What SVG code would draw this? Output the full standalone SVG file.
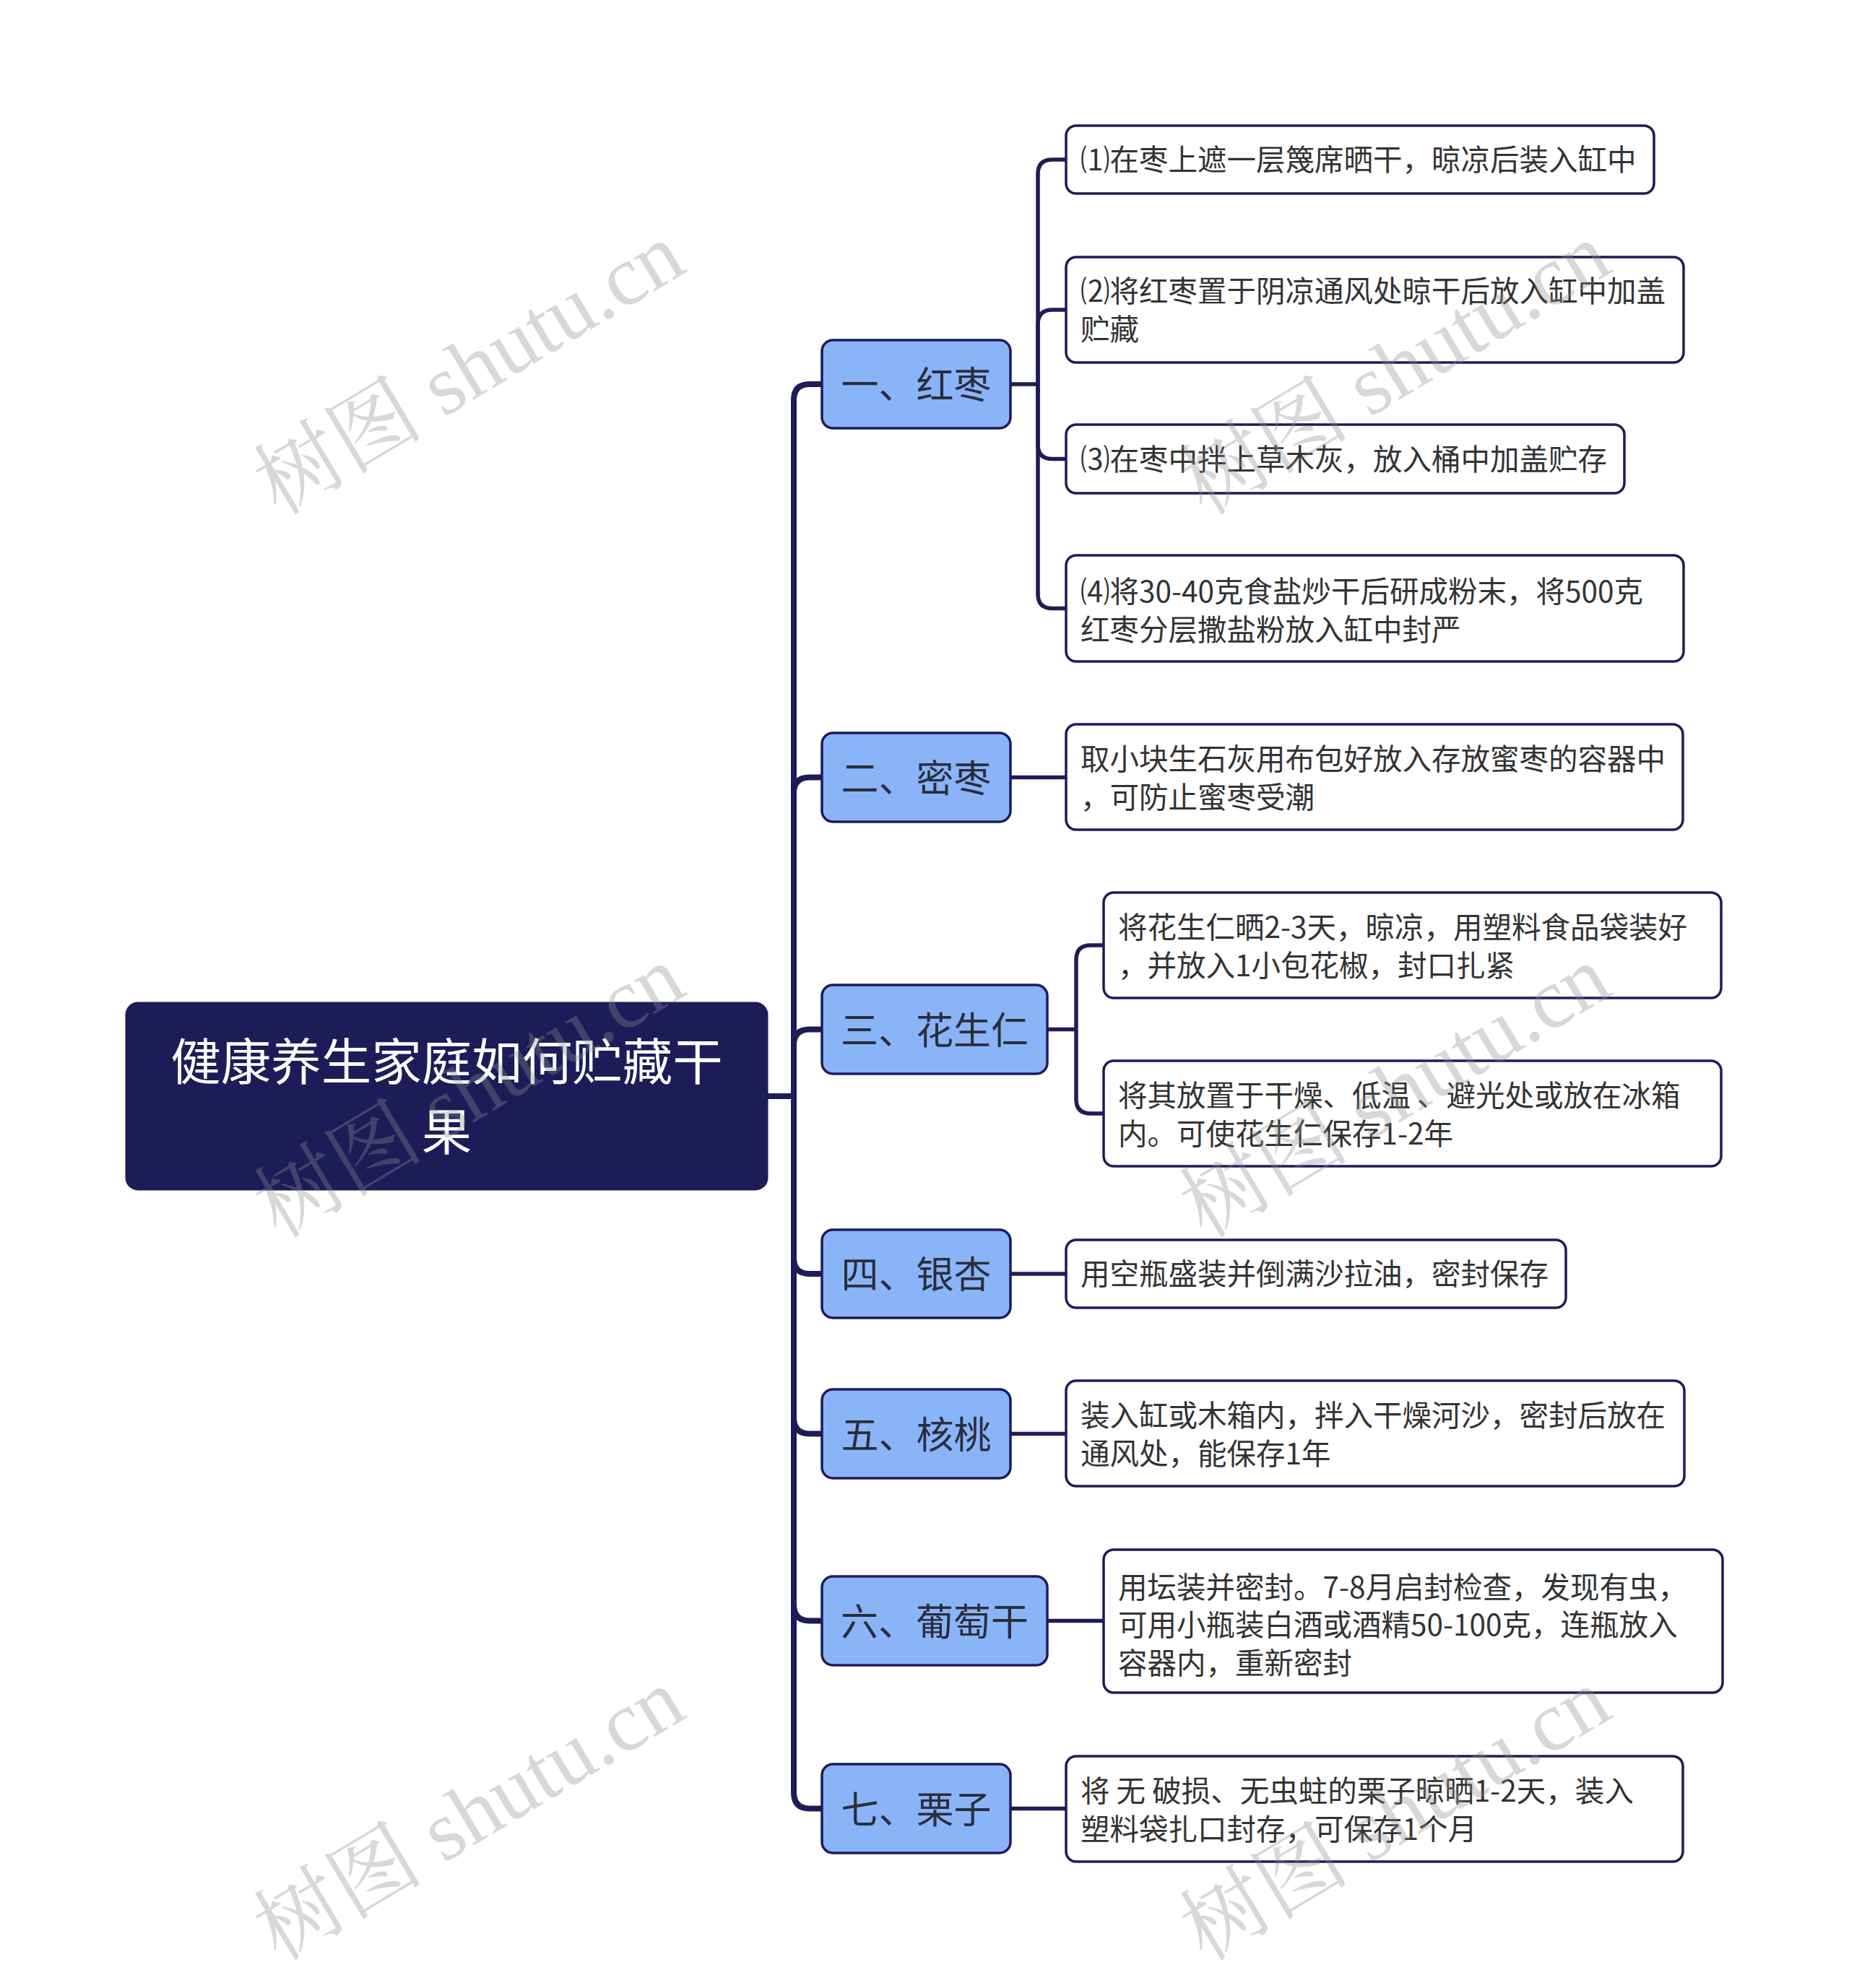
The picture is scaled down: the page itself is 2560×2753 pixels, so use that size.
<svg xmlns="http://www.w3.org/2000/svg" width="2560" height="2753" viewBox="0 0 2560 2753">
<style>
.bg{fill:#ffffff}
.root{fill:#1e1c58;stroke:#1e1c58;stroke-width:3}
.l1{fill:#8ab4f8;stroke:#1e1c58;stroke-width:3.5}
.leaf{fill:#ffffff;stroke:#1e1c58;stroke-width:3.5}
.c1{fill:none;stroke:#1e1c58;stroke-width:8;stroke-linejoin:round}
.c2{fill:none;stroke:#1e1c58;stroke-width:5.5;stroke-linejoin:round}
.tr{font-family:"Noto Sans CJK SC","Noto Sans",sans-serif;font-size:69.5px;fill:#ffffff;text-anchor:middle}
.t1{font-family:"Noto Sans CJK SC","Noto Sans",sans-serif;font-size:52px;fill:#2b2d3c;text-anchor:middle}
.t2{font-family:"Noto Sans CJK SC","Noto Sans",sans-serif;font-size:40.5px;fill:#333333}
.wm{font-family:"Liberation Serif","Noto Serif CJK SC","Noto Sans CJK SC",serif;font-size:118px;fill:#8c8c8c;fill-opacity:0.34;text-anchor:middle}
</style>
<rect class="bg" x="0" y="0" width="2560" height="2753"/>
<g id="connectors">
<path class="c1" d="M1062 1518 H1099"/>
<path class="c1" d="M1099 1518 V554 Q1099 532 1121 532 H1138"/>
<path class="c1" d="M1099 1518 V1098 Q1099 1076.5 1121 1076.5 H1138"/>
<path class="c1" d="M1099 1518 V1447 Q1099 1425.5 1121 1425.5 H1138"/>
<path class="c1" d="M1099 1518 V1742 Q1099 1764 1121 1764 H1138"/>
<path class="c1" d="M1099 1518 V1963 Q1099 1985.5 1121 1985.5 H1138"/>
<path class="c1" d="M1099 1518 V2222 Q1099 2244.5 1121 2244.5 H1138"/>
<path class="c1" d="M1099 1518 V2482 Q1099 2504.5 1121 2504.5 H1138"/>
<path class="c2" d="M1399 532 H1437"/>
<path class="c2" d="M1437 532 V241 Q1437 221 1457 221 H1476"/>
<path class="c2" d="M1437 532 V449 Q1437 429 1457 429 H1476"/>
<path class="c2" d="M1437 532 V615.5 Q1437 635.5 1457 635.5 H1476"/>
<path class="c2" d="M1437 532 V822.5 Q1437 842.5 1457 842.5 H1476"/>
<path class="c2" d="M1399 1076.5 H1476"/>
<path class="c2" d="M1450 1425.5 H1490"/>
<path class="c2" d="M1490 1425.5 V1329 Q1490 1309 1510 1309 H1528"/>
<path class="c2" d="M1490 1425.5 V1522 Q1490 1542 1510 1542 H1528"/>
<path class="c2" d="M1399 1764 H1476"/>
<path class="c2" d="M1399 1985.5 H1476"/>
<path class="c2" d="M1450 2244.5 H1528"/>
<path class="c2" d="M1399 2504.5 H1476"/>
</g>
<g id="root">
<rect class="root" x="175" y="1389" width="887" height="258" rx="16"/>
<text class="tr" x="618.5" y="1496">健康养生家庭如何贮藏干</text>
<text class="tr" x="618.5" y="1593">果</text>
</g>
<g id="n1">
<rect class="l1" x="1138" y="471" width="261" height="122" rx="15"/>
<text class="t1" x="1268.5" y="552">一、红枣</text>
</g>
<g id="n1a">
<rect class="leaf" x="1476" y="174" width="814" height="94" rx="14"/>
<text class="t2" x="1496" y="236">⑴在枣上遮一层篾席晒干，晾凉后装入缸中</text>
</g>
<g id="n1b">
<rect class="leaf" x="1476" y="356" width="855" height="146" rx="14"/>
<text class="t2" x="1496" y="418">⑵将红枣置于阴凉通风处晾干后放入缸中加盖</text>
<text class="t2" x="1496" y="471">贮藏</text>
</g>
<g id="n1c">
<rect class="leaf" x="1476" y="588" width="773" height="95" rx="14"/>
<text class="t2" x="1496" y="651">⑶在枣中拌上草木灰，放入桶中加盖贮存</text>
</g>
<g id="n1d">
<rect class="leaf" x="1476" y="769" width="855" height="147" rx="14"/>
<text class="t2" x="1496" y="834">⑷将30-40克食盐炒干后研成粉末，将500克</text>
<text class="t2" x="1496" y="887">红枣分层撒盐粉放入缸中封严</text>
</g>
<g id="n2">
<rect class="l1" x="1138" y="1015" width="261" height="123" rx="15"/>
<text class="t1" x="1268.5" y="1096.5">二、密枣</text>
</g>
<g id="n2a">
<rect class="leaf" x="1476" y="1003" width="854" height="146" rx="14"/>
<text class="t2" x="1496" y="1066">取小块生石灰用布包好放入存放蜜枣的容器中</text>
<text class="t2" x="1496" y="1119">，可防止蜜枣受潮</text>
</g>
<g id="n3">
<rect class="l1" x="1138" y="1364" width="312" height="123" rx="15"/>
<text class="t1" x="1294" y="1445.5">三、花生仁</text>
</g>
<g id="n3a">
<rect class="leaf" x="1528" y="1236" width="855" height="146" rx="14"/>
<text class="t2" x="1548" y="1299">将花生仁晒2-3天，晾凉，用塑料食品袋装好</text>
<text class="t2" x="1548" y="1352">，并放入1小包花椒，封口扎紧</text>
</g>
<g id="n3b">
<rect class="leaf" x="1528" y="1469" width="855" height="146" rx="14"/>
<text class="t2" x="1548" y="1532">将其放置于干燥、低温 、避光处或放在冰箱</text>
<text class="t2" x="1548" y="1585">内。可使花生仁保存1-2年</text>
</g>
<g id="n4">
<rect class="l1" x="1138" y="1703" width="261" height="122" rx="15"/>
<text class="t1" x="1268.5" y="1784">四、银杏</text>
</g>
<g id="n4a">
<rect class="leaf" x="1476" y="1717" width="692" height="94" rx="14"/>
<text class="t2" x="1496" y="1779">用空瓶盛装并倒满沙拉油，密封保存</text>
</g>
<g id="n5">
<rect class="l1" x="1138" y="1924" width="261" height="123" rx="15"/>
<text class="t1" x="1268.5" y="2005.5">五、核桃</text>
</g>
<g id="n5a">
<rect class="leaf" x="1476" y="1912" width="856" height="146" rx="14"/>
<text class="t2" x="1496" y="1975">装入缸或木箱内，拌入干燥河沙，密封后放在</text>
<text class="t2" x="1496" y="2028">通风处，能保存1年</text>
</g>
<g id="n6">
<rect class="l1" x="1138" y="2183" width="312" height="123" rx="15"/>
<text class="t1" x="1294" y="2264.5">六、葡萄干</text>
</g>
<g id="n6a">
<rect class="leaf" x="1528" y="2146" width="857" height="198" rx="14"/>
<text class="t2" x="1548" y="2213">用坛装并密封。7-8月启封检查，发现有虫，</text>
<text class="t2" x="1548" y="2265">可用小瓶装白酒或酒精50-100克，连瓶放入</text>
<text class="t2" x="1548" y="2318">容器内，重新密封</text>
</g>
<g id="n7">
<rect class="l1" x="1138" y="2443" width="261" height="123" rx="15"/>
<text class="t1" x="1268.5" y="2524.5">七、栗子</text>
</g>
<g id="n7a">
<rect class="leaf" x="1476" y="2432" width="854" height="146" rx="14"/>
<text class="t2" x="1496" y="2495">将 无 破损、无虫蛀的栗子晾晒1-2天，装入</text>
<text class="t2" x="1496" y="2548">塑料袋扎口封存，可保存1个月</text>
</g>
<g id="watermarks">
<text class="wm" transform="translate(670 545) rotate(-31)">树图 shutu.cn</text>
<text class="wm" transform="translate(1952 545) rotate(-31)">树图 shutu.cn</text>
<text class="wm" transform="translate(670 1546) rotate(-31)">树图 shutu.cn</text>
<text class="wm" transform="translate(1952 1546) rotate(-31)">树图 shutu.cn</text>
<text class="wm" transform="translate(670 2547) rotate(-31)">树图 shutu.cn</text>
<text class="wm" transform="translate(1952 2547) rotate(-31)">树图 shutu.cn</text>
</g>
</svg>
